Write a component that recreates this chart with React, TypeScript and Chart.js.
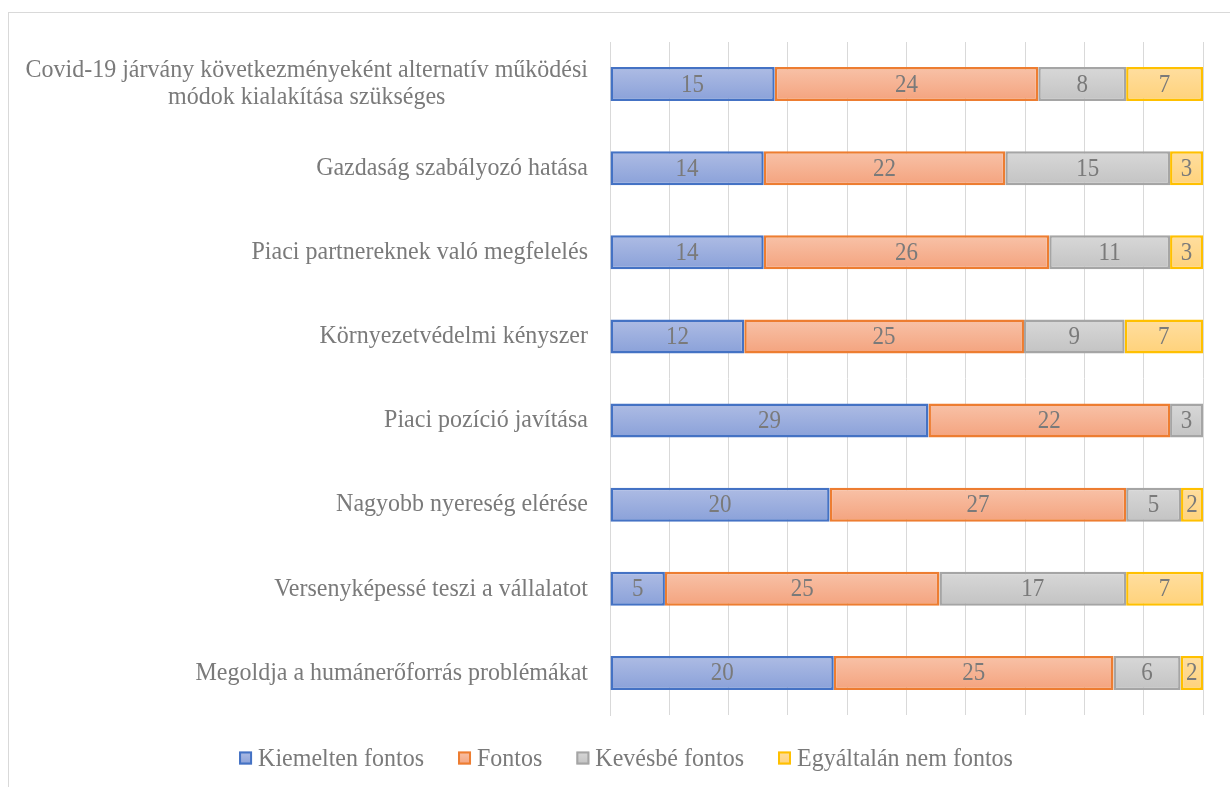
import React, { useEffect, useRef } from "react";
import { Chart, registerables } from "chart.js";

Chart.register(...registerables);

const categories: (string | string[])[] = [
  ["Covid-19 járvány következményeként alternatív működési", "módok kialakítása szükséges"],
  "Gazdaság szabályozó hatása",
  "Piaci partnereknek való megfelelés",
  "Környezetvédelmi kényszer",
  "Piaci pozíció javítása",
  "Nagyobb nyereség elérése",
  "Versenyképessé teszi a vállalatot",
  "Megoldja a humánerőforrás problémákat",
];

const seriesNames = ["Kiemelten fontos", "Fontos", "Kevésbé fontos", "Egyáltalán nem fontos"];

const kiemeltenFontos = [15, 14, 14, 12, 29, 20, 5, 20];
const fontos = [24, 22, 26, 25, 22, 27, 25, 25];
const kevesbeFontos = [8, 15, 11, 9, 3, 5, 17, 6];
const egyaltalanNemFontos = [7, 3, 3, 7, 0, 2, 7, 2];

const percentTicks = [0, 10, 20, 30, 40, 50, 60, 70, 80, 90, 100];

const FONT = "'Liberation Serif', 'Times New Roman', serif";
const TEXT = "#7a7a7a";
// slightly tall glyphs
const STRETCH_Y = 1.07;

const styles = [
  { border: "#4472C4", top: "#aebce4", bottom: "#8aa1d9" },
  { border: "#ED7D31", top: "#f8c2a8", bottom: "#f4a37e" },
  { border: "#A5A5A5", top: "#d8d8d8", bottom: "#c3c3c3" },
  { border: "#FFC000", top: "#ffdea0", bottom: "#ffd27a" },
];

const BAR_RATIO = 0.405;

function tallText(ctx: CanvasRenderingContext2D, text: string, x: number, y: number) {
  ctx.save();
  ctx.translate(x, y);
  ctx.scale(1, STRETCH_Y);
  ctx.fillText(text, 0, 0);
  ctx.restore();
}

export default function App() {
  const ref = useRef<HTMLCanvasElement>(null);

  useEffect(() => {
    if (!ref.current) return;
    const raw = [kiemeltenFontos, fontos, kevesbeFontos, egyaltalanNemFontos];
    const totals = categories.map((_, i) => raw.reduce((s, arr) => s + arr[i], 0));

    const gradientFill = (si: number) => (ctx: any) => {
      const chart = ctx.chart;
      const y = chart.scales?.y;
      if (!y || ctx.type !== "data" || !chart.chartArea) return styles[si].top;
      const c = y.getPixelForValue(ctx.dataIndex);
      const half = ((y.bottom - y.top) / categories.length) * BAR_RATIO / 2;
      const g = chart.ctx.createLinearGradient(0, c - half, 0, c + half);
      g.addColorStop(0, styles[si].top);
      g.addColorStop(1, styles[si].bottom);
      return g;
    };

    const datasets = raw.map((arr, si) => ({
      label: seriesNames[si],
      data: arr.map((v, i) => (v === 0 ? null : (v / totals[i]) * 100)),
      backgroundColor: gradientFill(si),
      borderColor: styles[si].border,
      borderWidth: 2.5,
      borderSkipped: false as const,
      categoryPercentage: 1,
      barPercentage: BAR_RATIO,
    }));

    // category names on the left, right-aligned; wrapped names centred as a block
    const categoryLabels = {
      id: "categoryLabels",
      afterDraw(chart: any) {
        const { ctx, scales } = chart;
        const y = scales.y;
        ctx.save();
        ctx.font = `24px ${FONT}`;
        ctx.fillStyle = TEXT;
        ctx.textBaseline = "middle";
        ctx.textAlign = "center";
        const right = chart.chartArea.left - 22;
        categories.forEach((lab, i) => {
          const cy = y.getPixelForValue(i);
          const lines = Array.isArray(lab) ? lab : [lab];
          const lh = 27;
          const maxW = Math.max(...lines.map((l) => ctx.measureText(l).width));
          const centerX = right - maxW / 2;
          lines.forEach((l, k) => {
            tallText(ctx, l, centerX, cy + (k - (lines.length - 1) / 2) * lh);
          });
        });
        ctx.restore();
      },
    };

    // raw counts written in the middle of each segment
    const valueLabels = {
      id: "valueLabels",
      afterDatasetsDraw(chart: any) {
        const { ctx } = chart;
        ctx.save();
        ctx.font = `23px ${FONT}`;
        ctx.fillStyle = TEXT;
        ctx.textAlign = "center";
        ctx.textBaseline = "middle";
        raw.forEach((arr, si) => {
          const meta = chart.getDatasetMeta(si);
          meta.data.forEach((el: any, i: number) => {
            if (!arr[i]) return;
            const cx = (el.x + el.base) / 2;
            tallText(ctx, String(arr[i]), cx, el.y + 1);
          });
        });
        ctx.restore();
      },
    };

    // legend row under the plot
    const legendRow = {
      id: "legendRow",
      afterDraw(chart: any) {
        const { ctx } = chart;
        ctx.save();
        ctx.font = `24px ${FONT}`;
        ctx.textBaseline = "middle";
        ctx.textAlign = "left";
        const box = 13;
        const gap = 6;
        const spacing = 34;
        const widths = seriesNames.map((n) => ctx.measureText(n).width);
        const total =
          widths.reduce((s, w) => s + box + gap + w, 0) + spacing * (seriesNames.length - 1);
        let x = 626 - total / 2;
        const cy = 758;
        seriesNames.forEach((n, si) => {
          const g = ctx.createLinearGradient(0, cy - box / 2, 0, cy + box / 2);
          g.addColorStop(0, styles[si].top);
          g.addColorStop(1, styles[si].bottom);
          ctx.fillStyle = g;
          ctx.fillRect(x, cy - box / 2, box, box);
          ctx.strokeStyle = styles[si].border;
          ctx.lineWidth = 2;
          ctx.strokeRect(x + 1, cy - box / 2 + 1, box - 2, box - 2);
          ctx.fillStyle = TEXT;
          tallText(ctx, n, x + box + gap, cy + 1);
          x += box + gap + widths[si] + spacing;
        });
        ctx.restore();
      },
    };

    const chart = new Chart(ref.current, {
      type: "bar",
      data: { labels: categories as any, datasets: datasets as any },
      options: {
        indexAxis: "y",
        responsive: false,
        animation: false,
        layout: { padding: { top: 42, right: 27, bottom: 72, left: 0 } },
        plugins: {
          legend: { display: false },
          tooltip: { enabled: false },
        },
        scales: {
          x: {
            stacked: true,
            min: 0,
            max: 100,
            afterBuildTicks: (scale: any) => {
              scale.ticks = percentTicks.map((v) => ({ value: v }));
            },
            ticks: { display: false },
            grid: { color: "#d9d9d9", lineWidth: 1, drawTicks: false },
            border: { display: false },
            afterFit: (scale: any) => {
              scale.height = 0;
            },
          },
          y: {
            stacked: true,
            ticks: { display: false },
            grid: { display: false, drawTicks: false },
            border: { display: true, color: "#d9d9d9", width: 1 },
            afterFit: (scale: any) => {
              scale.width = 610;
            },
          },
        },
      },
      plugins: [categoryLabels, valueLabels, legendRow],
    });

    return () => chart.destroy();
  }, []);

  return (
    <div style={{ position: "absolute", left: 0, top: 0, width: 1230, height: 787, overflow: "hidden", background: "#fff" }}>
      <div
        style={{
          position: "absolute",
          left: 8,
          top: 12,
          width: 1250,
          height: 800,
          border: "1px solid #d9d9d9",
          boxSizing: "border-box",
        }}
      />
      <canvas
        ref={ref}
        width={1230}
        height={787}
        style={{ position: "absolute", left: 0, top: 0, width: 1230, height: 787 }}
      />
    </div>
  );
}
